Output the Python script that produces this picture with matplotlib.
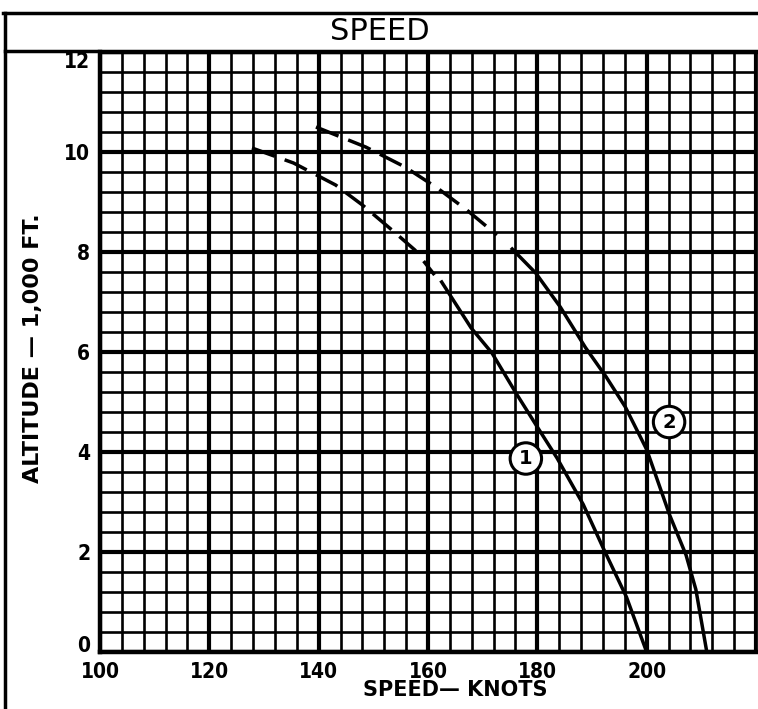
import matplotlib
matplotlib.use("Agg")
import matplotlib.pyplot as plt
from matplotlib.lines import Line2D
import numpy as np

# curve 1 (dashed upper part, solid lower part)
c1_dash_speed = [127.8, 135.4, 143.1, 148.0, 153.4, 157.6, 161.2]
c1_dash_alt = [10.08, 9.78, 9.34, 8.94, 8.44, 8.04, 7.54]
c1_solid_speed = [162.5, 167.9, 171.7, 176.2, 180.0, 183.6, 188.4, 192.3, 196.3, 200.0]
c1_solid_alt = [7.40, 6.48, 5.98, 5.16, 4.50, 3.88, 2.95, 2.02, 1.10, 0.0]

# curve 2
c2_dash_speed = [139.5, 148.6, 155.8, 161.7, 167.1, 172.6]
c2_dash_alt = [10.50, 10.10, 9.70, 9.28, 8.84, 8.34]
c2_solid_speed = [175.4, 179.7, 184.2, 188.8, 192.6, 196.1, 200.0, 204.2, 207.2, 209.0, 211.0]
c2_solid_alt = [8.06, 7.58, 6.90, 6.09, 5.50, 4.90, 4.05, 2.74, 1.94, 1.25, 0.0]

# circled labels
label_text = ["1", "2"]
label_speed = [177.9, 204.1]
label_alt = [3.87, 4.60]

x_ticks = [100, 120, 140, 160, 180, 200]
y_ticks = [0, 2, 4, 6, 8, 10, 12]

fig = plt.figure(figsize=(7.58, 7.09), dpi=100)
ax = fig.add_axes([100 / 758, 57 / 709, 656 / 758, 600 / 709])

ax.set_xlim(100, 218.0)
ax.set_ylim(0, 12)

ax.set_xticks(np.arange(100, 221, 20))
ax.set_xticklabels([str(t) for t in x_ticks] + [""])
ax.set_xticks(np.arange(100, 219, 4), minor=True)
ax.set_yticks(y_ticks)
ax.set_yticklabels([str(t) for t in y_ticks])
ax.set_yticks(np.arange(0, 12.01, 0.4), minor=True)

ax.grid(which="major", color="black", lw=3.0)
ax.grid(which="minor", color="black", lw=1.9)
ax.set_axisbelow(True)

ax.tick_params(which="both", length=0)
ax.tick_params(axis="x", pad=7, labelsize=15)
ax.tick_params(axis="y", pad=7, labelsize=15)
for lab in ax.get_xticklabels() + ax.get_yticklabels():
    lab.set_fontweight("bold")
    lab.set_fontstretch("condensed")
ylabs = ax.get_yticklabels()
ylabs[0].set_va("baseline")
ylabs[-1].set_va("top")

for side in ["left", "bottom"]:
    ax.spines[side].set_linewidth(3.2)
ax.spines["top"].set_linewidth(2.5)
ax.spines["right"].set_linewidth(2.0)

dash = (0, (7, 3))
ax.plot(c1_dash_speed, c1_dash_alt, color="black", lw=2.5, ls=dash, zorder=3)
ax.plot(c1_solid_speed, c1_solid_alt, color="black", lw=2.5, zorder=3)
ax.plot(c2_dash_speed, c2_dash_alt, color="black", lw=2.5, ls=dash, zorder=3)
ax.plot(c2_solid_speed, c2_solid_alt, color="black", lw=2.5, zorder=3)

for t, xs, ys in zip(label_text, label_speed, label_alt):
    ax.text(xs, ys, t, ha="center", va="center", fontsize=14, fontweight="bold",
            zorder=5,
            bbox=dict(boxstyle="circle,pad=0.32", fc="white", ec="black", lw=2.2))

# outer frame and title band
fig.add_artist(Line2D([0.004, 1.0], [1 - 13 / 709, 1 - 13 / 709], color="black", lw=2.5))
fig.add_artist(Line2D([5 / 758, 5 / 758], [0.0, 1 - 13 / 709], color="black", lw=2.5))
fig.add_artist(Line2D([5 / 758, 1.0], [1 - 51 / 709, 1 - 51 / 709], color="black", lw=2.5))

fig.text(380 / 758, 1 - 31 / 709, "SPEED", ha="center", va="center", fontsize=22)
fig.text(455 / 758, 1 - 690 / 709, "SPEED\u2014 KNOTS", ha="center", va="center",
         fontsize=15, fontweight="bold")
fig.text(33 / 758, 1 - 348 / 709, "ALTITUDE \u2014 1,000 FT.", ha="center", va="center",
         rotation=90, fontsize=16, fontweight="bold")

fig.savefig("out.png", dpi=100, facecolor="white")
